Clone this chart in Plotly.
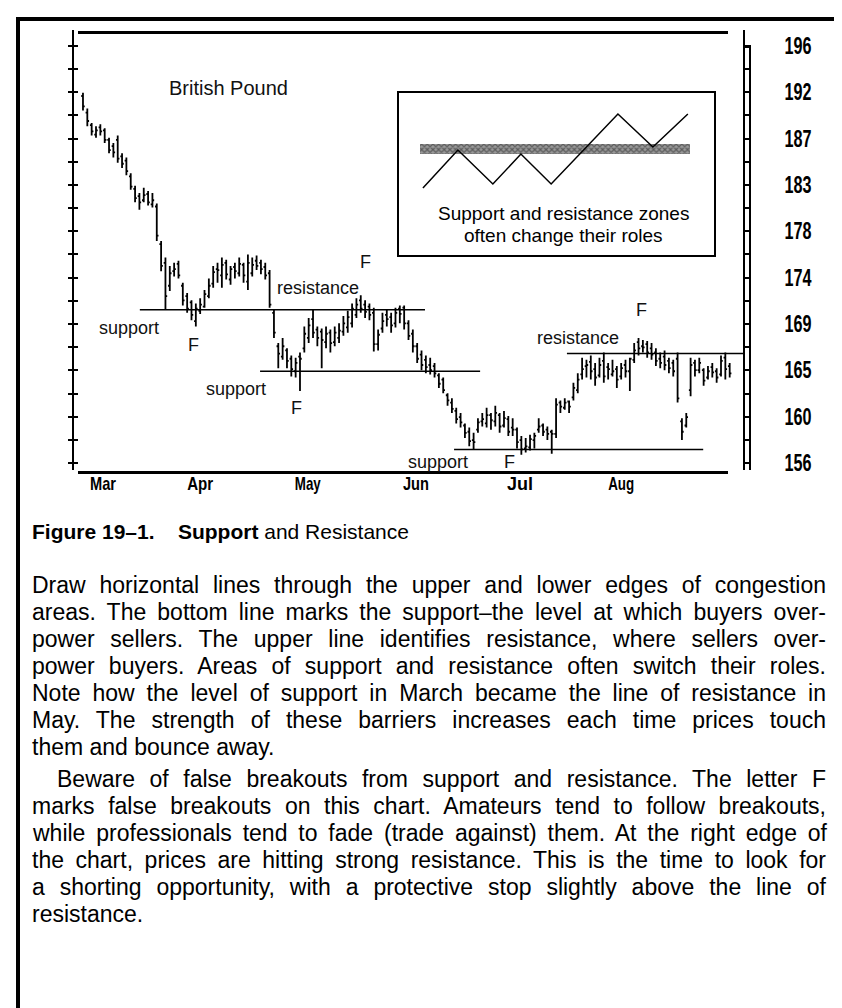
import plotly.graph_objects as go
import numpy as np

# ---------------- data ----------------
months = ["Mar", "Apr", "May", "Jun", "Jul", "Aug"]
month_pos = [4.6, 27.0, 51.8, 76.7, 100.7, 124.0]          # bar index of month labels

price_labels = ["156", "160", "165", "169", "174", "178", "183", "187", "192", "196"]
price_min, price_max = 156.0, 196.0

high = [191.5,190.0,188.6,188.3,188.5,188.1,187.2,186.7,187.4,185.7,
        185.3,183.8,182.6,181.9,182.4,182.1,181.9,180.9,177.3,175.7,
        174.9,175.2,175.4,173.3,172.3,171.6,171.3,171.8,172.6,173.7,
        174.9,175.2,175.7,175.5,174.9,175.2,175.7,175.2,176.0,175.7,
        175.9,175.5,175.2,174.5,170.7,167.5,168.0,167.0,166.3,166.1,
        166.6,169.1,169.9,170.7,169.1,168.9,169.1,168.8,169.1,169.4,
        170.1,170.6,171.3,171.8,172.1,171.6,171.3,170.9,168.8,170.4,
        170.7,170.4,170.9,171.1,171.1,169.7,168.8,167.5,166.8,166.3,
        166.1,165.6,164.6,164.2,162.7,162.2,161.3,160.8,159.8,159.4,
        158.9,160.3,160.8,161.3,160.8,161.5,160.8,161.0,160.5,160.3,
        159.4,158.6,158.4,158.7,158.9,160.3,159.8,159.5,159.2,162.2,
        162.0,162.2,162.0,163.7,164.6,166.1,165.9,166.3,165.6,166.1,
        166.6,165.6,165.9,165.3,165.6,165.9,166.1,167.5,168.0,167.8,
        167.7,167.5,167.0,166.6,166.8,166.1,165.9,166.6,160.3,160.8,
        166.1,165.9,166.1,165.1,165.3,165.6,165.1,166.3,166.6,165.6]

low = [189.8,188.3,187.4,187.2,187.4,186.7,185.7,185.3,184.8,184.3,
       183.6,182.2,181.0,180.3,181.0,180.7,180.5,177.3,174.4,170.7,
       172.5,173.9,173.7,171.1,170.4,169.7,169.1,170.3,170.9,171.8,
       172.8,173.3,172.8,173.6,173.1,173.7,173.9,173.3,172.6,173.9,
       174.5,174.1,173.6,170.9,168.0,165.1,165.9,165.1,164.3,164.2,
       162.9,166.6,167.5,168.0,167.2,165.1,167.0,166.6,167.2,167.5,
       168.2,168.5,169.0,169.9,170.4,169.9,169.7,166.7,166.8,168.5,
       169.1,168.5,169.0,169.4,168.8,167.8,166.6,165.6,164.9,164.6,
       164.5,164.2,163.2,162.7,161.5,160.8,159.8,159.4,158.4,157.6,
       157.3,158.9,159.5,159.4,159.2,159.5,158.9,159.4,158.6,158.6,
       157.4,156.8,157.0,157.2,157.4,158.9,158.6,158.2,156.9,158.4,
       160.8,161.1,160.8,162.0,162.7,164.0,164.2,164.0,163.4,164.2,
       163.7,164.0,164.3,163.2,164.0,164.2,162.9,165.6,166.3,166.6,
       166.1,165.9,165.3,165.1,164.9,164.6,164.3,161.8,158.2,159.4,
       162.4,164.3,164.6,163.4,164.0,164.2,163.7,164.3,164.0,164.2]

close = [190.2,188.8,187.8,187.9,187.8,187.0,186.0,185.8,185.2,184.7,
         184.0,182.5,181.4,181.0,181.7,181.0,181.2,177.8,174.9,172.0,
         174.2,174.6,174.0,171.6,170.8,170.2,170.8,171.2,172.2,173.0,
         174.3,174.5,175.0,174.1,174.6,174.4,175.1,174.0,175.2,175.0,
         174.9,174.6,174.0,171.2,168.5,166.5,167.2,165.8,165.0,165.6,
         166.0,168.4,169.2,168.5,168.0,167.8,168.4,167.5,168.5,168.7,
         169.4,170.0,170.8,171.2,170.8,170.5,170.2,167.4,168.3,169.6,
         169.8,169.2,170.4,170.3,169.4,168.2,167.2,166.0,165.4,165.2,
         164.9,164.6,163.6,163.0,162.0,161.2,160.2,159.9,158.9,158.1,
         158.0,159.9,160.2,160.6,160.1,160.8,159.5,160.3,159.0,159.2,
         158.0,157.3,157.6,158.3,158.6,159.5,159.0,158.8,158.8,161.6,
         161.4,161.8,161.4,163.2,164.0,165.0,165.4,164.8,164.2,165.4,
         164.3,165.0,164.8,164.0,165.1,164.8,166.0,166.8,167.0,167.1,
         166.6,166.4,165.8,165.6,165.4,165.1,164.8,162.2,159.0,160.4,
         165.4,164.9,165.6,163.9,164.8,164.7,164.2,165.8,165.0,164.6]

open_ = [191.2,189.6,188.4,187.5,188.2,187.9,187.0,186.4,187.0,185.4,
         185.0,183.5,182.3,181.6,181.2,181.8,180.8,180.6,177.0,175.2,
         173.0,174.4,175.1,173.0,172.0,171.4,169.6,170.6,171.0,172.0,
         173.2,174.6,174.0,175.2,173.6,174.8,174.2,175.0,173.4,174.2,
         175.4,175.2,174.8,174.2,170.4,167.2,166.2,166.8,166.0,164.8,
         166.2,167.0,168.0,169.8,168.8,168.6,167.6,168.5,167.6,168.0,
         168.6,169.0,169.4,170.2,171.6,171.2,171.0,170.4,167.4,168.9,
         170.2,170.0,169.4,170.8,170.9,169.4,168.4,167.2,166.4,165.9,
         165.4,165.3,164.4,164.0,162.5,161.8,161.0,160.4,159.6,159.0,
         158.2,159.2,160.0,159.8,160.6,160.0,160.6,159.6,160.2,159.4,
         159.2,158.2,157.4,157.5,158.2,159.2,159.6,159.2,159.0,158.8,
         161.8,161.3,161.9,162.3,163.0,164.5,165.3,165.7,165.0,164.4,
         165.8,165.2,164.5,165.0,164.3,165.4,164.8,165.9,167.6,167.2,
         167.4,167.0,166.6,166.0,166.2,165.8,165.6,166.0,160.0,159.6,
         163.0,165.6,164.9,164.9,164.2,165.2,164.8,164.5,166.1,165.3]

# support / resistance lines: level, first bar, last bar
sr_levels = [170.7, 164.8, 157.3, 166.5]
sr_start = [13.1, 40.8, 85.5, 111.5]
sr_end = [78.8, 91.5, 142.9, 152.1]

# inset diagram (abstract units 0..10)
inset_x = [0.76, 1.87, 2.98, 3.87, 4.83, 6.95, 8.06, 9.17]
inset_y = [4.14, 6.48, 4.38, 6.23, 4.38, 8.70, 6.67, 8.70]
band_level, band_from, band_to = 6.54, 0.67, 9.24

para1 = ["Draw horizontal lines through the upper and lower edges of congestion",
         "areas. The bottom line marks the support\u2013the level at which buyers over-",
         "power sellers. The upper line identifies resistance, where sellers over-",
         "power buyers. Areas of support and resistance often switch their roles.",
         "Note how the level of support in March became the line of resistance in",
         "May. The strength of these barriers increases each time prices touch",
         "them and bounce away."]
para2 = ["Beware of false breakouts from support and resistance. The letter F",
         "marks false breakouts on this chart. Amateurs tend to follow breakouts,",
         "while professionals tend to fade (trade against) them. At the right edge of",
         "the chart, prices are hitting strong resistance. This is the time to look for",
         "a shorting opportunity, with a protective stop slightly above the line of",
         "resistance."]

# ---------------- geometry helpers ----------------
W, H = 842, 1008
ML, MR, MT, MB = 66, 107, 22, 546
PW, PH = W - ML - MR, H - MT - MB


def fx(px):
    return (px - ML) / PW


def fy(py):
    return (H - MB - py) / PH


N = len(high)
xs = list(range(N))
x_range = [-2.07, 152.07]
y_range = [155.33, 197.53]

major_ticks = list(np.linspace(price_min, price_max, len(price_labels)))
minor_ticks = list(np.linspace(price_min, price_max, 2 * len(price_labels) - 1))

SANS = "Liberation Sans, Arial, Helvetica, sans-serif"

fig = go.Figure()

fig.add_trace(go.Ohlc(x=xs, open=open_, high=high, low=low, close=close,
                      increasing=dict(line=dict(color="black", width=1.8)),
                      decreasing=dict(line=dict(color="black", width=1.8)),
                      tickwidth=0.4, showlegend=False, hoverinfo="skip"))

for lev, a, b in zip(sr_levels, sr_start, sr_end):
    fig.add_trace(go.Scatter(x=[a, b], y=[lev, lev], mode="lines",
                             line=dict(color="black", width=1.6),
                             showlegend=False, hoverinfo="skip"))

# dummy traces for auxiliary axes
fig.add_trace(go.Scatter(x=[None], y=[None], yaxis="y2", showlegend=False))
fig.add_trace(go.Scatter(x=[None], y=[None], yaxis="y3", showlegend=False))

# inset
fig.add_trace(go.Bar(x=[band_to - band_from], base=[band_from], y=[band_level],
                     orientation="h", width=0.62, xaxis="x2", yaxis="y4",
                     marker=dict(color="#9a9a9a", line=dict(width=0),
                                 pattern=dict(shape="x", fgcolor="#1a1a1a", size=4, solidity=0.5)),
                     showlegend=False, hoverinfo="skip"))
fig.add_trace(go.Scatter(x=inset_x, y=inset_y, mode="lines", xaxis="x2", yaxis="y4",
                         line=dict(color="black", width=1.5), showlegend=False, hoverinfo="skip"))

axis_common = dict(showgrid=False, zeroline=False)
fig.update_layout(
    width=W, height=H, margin=dict(l=ML, r=MR, t=MT, b=MB),
    paper_bgcolor="white", plot_bgcolor="white",
    showlegend=False,
    xaxis=dict(range=x_range, rangeslider=dict(visible=False), showline=False,
               tickmode="array", tickvals=month_pos, ticktext=months, ticks="",
               tickfont=dict(family=SANS, size=19, color="black", weight="bold"), **axis_common),
    yaxis=dict(range=y_range, side="left", showline=True, linewidth=2, linecolor="black",
               tickmode="array", tickvals=minor_ticks, ticks="outside", ticklen=4, tickwidth=2,
               tickcolor="black", showticklabels=False, **axis_common),
    yaxis3=dict(range=y_range, overlaying="y", side="left", showline=False,
                tickmode="array", tickvals=minor_ticks, ticks="inside", ticklen=4, tickwidth=2,
                tickcolor="black", showticklabels=False, **axis_common),
    yaxis2=dict(range=y_range, overlaying="y", side="right", showline=True, linewidth=2,
                linecolor="black", tickmode="array", tickvals=major_ticks, ticktext=price_labels,
                ticks="outside", ticklen=6, tickwidth=2, tickcolor="black",
                ticklabelstandoff=29,
                tickfont=dict(family=SANS, size=23, color="black", weight="bold"),
                minor=dict(tickmode="array", tickvals=minor_ticks, ticks="outside",
                           ticklen=6, tickwidth=2, tickcolor="black"),
                **axis_common),
    xaxis2=dict(domain=[fx(391), fx(706)], range=[0, 10], anchor="y4", showline=True,
                mirror=True, linewidth=1.5, linecolor="black", showticklabels=False,
                ticks="", **axis_common),
    yaxis4=dict(domain=[fy(247), fy(85)], range=[0, 10], anchor="x2", showline=True,
                mirror=True, linewidth=1.5, linecolor="black", showticklabels=False,
                ticks="", **axis_common),
    bargap=0,
)

shapes = []
# page border
shapes.append(dict(type="line", xref="paper", yref="paper", x0=fx(8), x1=fx(842), y0=fy(11), y1=fy(11),
                   line=dict(color="black", width=4)))
shapes.append(dict(type="line", xref="paper", yref="paper", x0=fx(10), x1=fx(10), y0=fy(9), y1=fy(1008),
                   line=dict(color="black", width=4)))
# chart frame top / bottom
shapes.append(dict(type="line", xref="paper", yref="paper", x0=fx(70), x1=fx(720), y0=fy(24.5), y1=fy(24.5),
                   line=dict(color="black", width=3)))
shapes.append(dict(type="line", xref="paper", yref="paper", x0=fx(70), x1=fx(720), y0=fy(464.5), y1=fy(464.5),
                   line=dict(color="black", width=3)))
# second right axis rail
shapes.append(dict(type="path", xref="paper", yref="paper",
                   path=f"M {fx(735)},{fy(39)} L {fx(742)},{fy(39)} L {fx(742)},{fy(462)}",
                   line=dict(color="black", width=2)))
fig.update_layout(shapes=shapes)

ann = []


def label(text, px, py, size=18, family=SANS, xanchor="center", color="#111"):
    ann.append(dict(text=text, x=fx(px), y=fy(py), xref="paper", yref="paper",
                    xanchor=xanchor, yanchor="middle", showarrow=False, align="left",
                    font=dict(family=family, size=size, color=color)))


label("British Pound", 220, 80, size=20)
label("support", 121, 320)
label("F", 185, 337)
label("resistance", 310, 280)
label("F", 357, 254)
label("support", 228, 381)
label("F", 288, 400)
label("support", 430, 454)
label("F", 502, 454)
label("resistance", 570, 330)
label("F", 633, 302)
label("Support and resistance zones", 555, 205, size=19, color="black")
label("often change their roles", 555, 227, size=19, color="black")

label("<b>Figure 19\u20131.</b>\u00a0\u00a0\u00a0\u00a0<b>Support</b> and Resistance", 22, 523,
      size=21, xanchor="left", color="black")

BODY = SANS
justify_idx = []
for k, line in enumerate(para1):
    if k < len(para1) - 1:
        justify_idx.append(len(ann))
    label(line, 22, 577 + 27 * k, size=23, family=BODY, xanchor="left", color="black")
for k, line in enumerate(para2):
    if k < len(para2) - 1:
        justify_idx.append(len(ann))
    label(line, 47 if k == 0 else 22, 771 + 27 * k, size=23, family=BODY, xanchor="left", color="black")

fig.update_layout(annotations=ann)

RIGHT_EDGE = 818
js = """
var gd = document.getElementById('{plot_id}');
var idx = %s;
var anns = gd.querySelectorAll('g.annotation');
idx.forEach(function(i){
  var g = anns[i]; if(!g) return;
  var t = g.querySelector('text.annotation-text'); if(!t) return;
  var box = t.getBBox();
  var ctm = t.getCTM();
  var left = box.x + ctm.e;
  var target = %d - left;
  var cur = t.getComputedTextLength();
  var n = (t.textContent.match(/ /g) || []).length;
  if(n > 0 && target > cur){
    t.style.wordSpacing = ((target - cur) / n) + 'px';
  } else if(target < cur){
    t.setAttribute('textLength', target); t.setAttribute('lengthAdjust', 'spacingAndGlyphs');
  }
});
// condensed look for the axis labels
gd.querySelectorAll('g.y2tick text').forEach(function(t){
  t.setAttribute('textLength', 27); t.setAttribute('lengthAdjust', 'spacingAndGlyphs');
});
gd.querySelectorAll('g.xtick text').forEach(function(t){
  t.setAttribute('textLength', 26); t.setAttribute('lengthAdjust', 'spacingAndGlyphs');
});
""" % (str(justify_idx), RIGHT_EDGE)

fig.write_html("out.html", post_script=js)
